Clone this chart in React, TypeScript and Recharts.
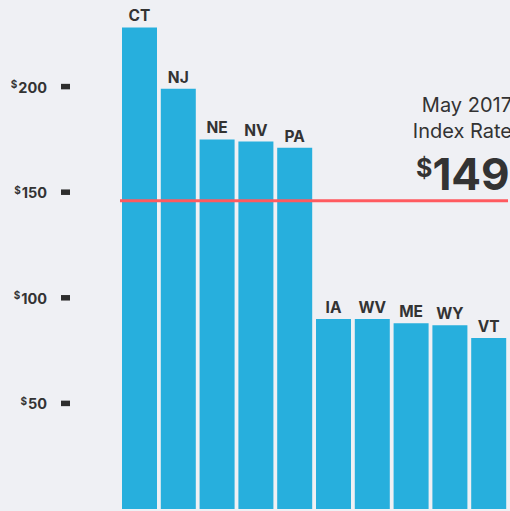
import React from 'react'
import { BarChart, Bar, XAxis, YAxis, ReferenceLine, LabelList, Customized } from 'recharts'

const states = ['CT', 'NJ', 'NE', 'NV', 'PA', 'IA', 'WV', 'ME', 'WY', 'VT']
const rates = [228, 199, 175, 174, 171, 90, 90, 88, 87, 81]
const yTicks = [50, 100, 150, 200]
const indexRate = 146

const data = states.map((state, i) => ({ state, rate: rates[i] }))

const FONT = 'Inter, "Liberation Sans", Arial, sans-serif'
const TEXT = '#333333'

const YTick = ({ y, payload }: { y?: number; payload?: { value: number } }) => {
  if (y == null || !payload) return null
  return (
    <g>
      <text x={47} y={y + 6} textAnchor="end" fill={TEXT} fontFamily={FONT} fontWeight={700}>
        <tspan fontSize={10} dy={-4.5}>$</tspan>
        <tspan fontSize={14.5} dy={4.5} dx={1}>{payload.value}</tspan>
      </text>
      <rect x={61} y={y - 2.75} width={9} height={5.5} fill="#2d2d2d" />
    </g>
  )
}

const Annotation = () => (
  <g fontFamily={FONT} fill={TEXT}>
    <text x={512} y={112} textAnchor="end" fontSize={20}>May 2017</text>
    <text x={512} y={137.5} textAnchor="end" fontSize={20}>Index Rate</text>
    <text x={416} y={190} fontWeight={700}>
      <tspan fontSize={25} dy={-13}>$</tspan>
      <tspan fontSize={44} dy={13}>149</tspan>
    </text>
  </g>
)

export default function App() {
  return (
    <div
      style={{
        position: 'absolute',
        left: 0,
        top: 0,
        width: 510,
        height: 511,
        background: '#eff0f4',
        overflow: 'hidden',
      }}
    >
      <BarChart
        width={510}
        height={511}
        data={data}
        margin={{ top: 0, right: 2, bottom: 2, left: 0 }}
      >
        <XAxis dataKey="state" hide />
        <YAxis
          width={120}
          domain={[0, 241]}
          ticks={yTicks}
          axisLine={false}
          tickLine={false}
          tick={<YTick />}
        />
        <Bar dataKey="rate" fill="#27afdd" barSize={35} isAnimationActive={false}>
          <LabelList
            dataKey="state"
            position="top"
            offset={6}
            fill={TEXT}
            fontSize={15.5}
            fontWeight={700}
            fontFamily={FONT}
          />
        </Bar>
        <ReferenceLine y={indexRate} stroke="#ff5a5f" strokeWidth={3} />
        <Customized component={Annotation} />
      </BarChart>
    </div>
  )
}
